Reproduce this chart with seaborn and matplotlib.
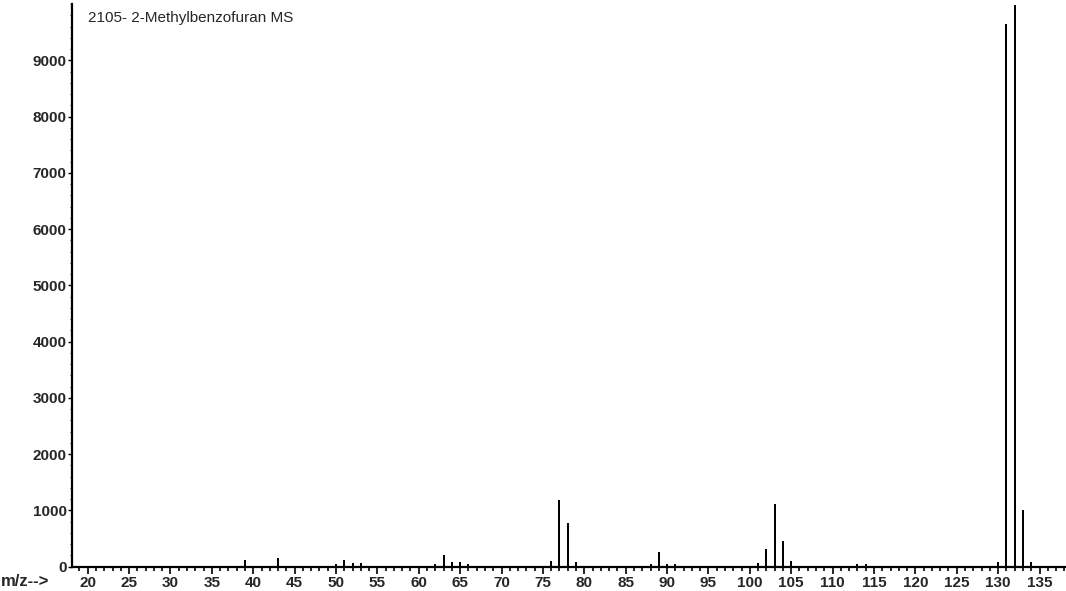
import numpy as np
import pandas as pd
import seaborn as sns
import matplotlib.pyplot as plt
from matplotlib.ticker import MultipleLocator

# 峰位置 (m/z) 和强度
mz = [39, 43, 50, 51, 52, 53, 62, 63, 64, 65, 66,
      76, 77, 78, 79, 88, 89, 90, 91,
      101, 102, 103, 104, 105, 113, 114,
      130, 131, 132, 133, 134]
abundance = [125, 160, 40, 125, 65, 60, 40, 215, 80, 80, 45,
             95, 1180, 770, 75, 45, 255, 55, 40,
             65, 315, 1120, 465, 95, 50, 55,
             90, 9640, 9990, 1015, 80]
title = "2105- 2-Methylbenzofuran MS"
y_ticks = [0, 1000, 2000, 3000, 4000, 5000, 6000, 7000, 8000, 9000]
x_ticks = list(range(20, 140, 5))

data = pd.DataFrame({"mz": mz, "abundance": abundance})

sns.set_style("ticks")
plt.rcParams["font.family"] = ["Liberation Sans", "DejaVu Sans"]

fig = plt.figure(figsize=(10.66, 5.91), dpi=100)
ax = fig.add_axes([72.3 / 1066, 1 - 566.7 / 591, (1066 - 72.3) / 1066, 562.7 / 591])

sns.histplot(data=data, x="mz", weights="abundance", discrete=True, shrink=0.24,
             color="black", alpha=1, linewidth=0, ax=ax)

ax.set_xlim(18.14, 138.2)
ax.set_ylim(0, 10000)
ax.set_xticks(x_ticks)
ax.set_yticks(y_ticks)
ax.xaxis.set_minor_locator(MultipleLocator(1))
ax.yaxis.set_minor_locator(MultipleLocator(200))
ax.tick_params(axis="x", which="major", direction="out", length=5, width=1.2,
               pad=2, labelsize=11, color="black")
ax.tick_params(axis="x", which="minor", direction="out", length=3, width=1.2, color="black")
ax.tick_params(axis="y", which="major", direction="out", length=3, width=1,
               pad=1, labelsize=11, color="black")
ax.tick_params(axis="y", which="minor", direction="out", length=1.5, width=0.6, color="black")
for lab in ax.get_xticklabels() + ax.get_yticklabels():
    lab.set_fontweight("bold")
ax.set_xlabel("")
ax.set_ylabel("")

sns.despine(ax=ax, top=True, right=True)
ax.spines["left"].set_linewidth(1.6)
ax.spines["bottom"].set_linewidth(1.6)
ax.spines["left"].set_color("black")
ax.spines["bottom"].set_color("black")

fig.text(88 / 1066, 1 - 18 / 591, title, ha="left", va="center", fontsize=11)
fig.text(0.001, 1 - 581 / 591, "m/z-->", ha="left", va="center", fontsize=12,
         fontweight="bold")

fig.savefig("out.png", dpi=100)
